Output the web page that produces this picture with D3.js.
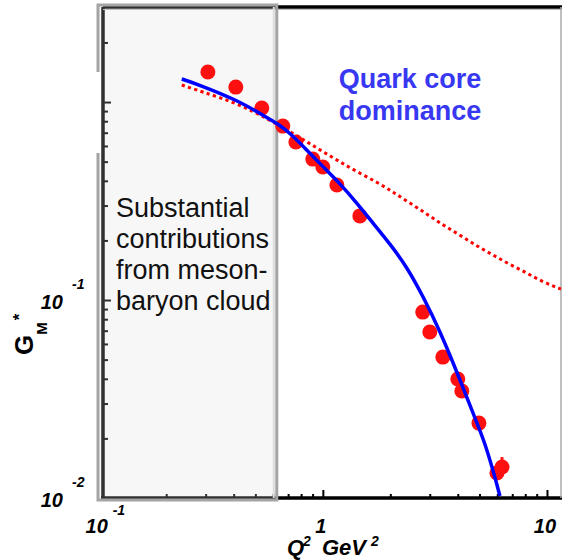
<!DOCTYPE html>
<html>
<head>
<meta charset="utf-8">
<script src="https://cdn.jsdelivr.net/npm/d3@7"></script>
<style>
  body { margin: 0; background: #fff; }
  svg { display: block; }
  text { font-family: Arial, "Liberation Sans", sans-serif; }
</style>
</head>
<body>
<svg id="chart" width="562" height="560"></svg>
<script>
// measured G_M* points (Q^2 in GeV^2)
const dataQ2 = [0.307, 0.409, 0.534, 0.663, 0.758, 0.902, 1.0, 1.155, 1.463, 2.79, 3.0, 3.43, 4.0, 4.17, 4.97, 5.98, 6.30];
const dataGM = [1.418, 1.19, 0.933, 0.756, 0.628, 0.515, 0.470, 0.381, 0.266, 0.0869, 0.0689, 0.0515, 0.0399, 0.0347, 0.0239, 0.01337, 0.01434];
const dataErrHi = [null, null, null, null, null, null, null, null, null, null, null, null, null, null, null, null, 0.0161];

// quark core curve (solid blue)
const quarkQ2 = [0.2347, 0.2824, 0.4131, 0.5396, 0.6427, 0.7122, 0.8484, 1.0, 1.191, 1.418, 1.672, 1.991, 2.371, 2.796, 3.329, 3.965, 4.673, 5.234, 5.741, 6.169];
const quarkGM = [1.307, 1.219, 1.0235, 0.8597, 0.7651, 0.6973, 0.5723, 0.4722, 0.3877, 0.3090, 0.2448, 0.1925, 0.1468, 0.1047, 0.06972, 0.04329, 0.02687, 0.01963, 0.01385, 0.01023];

// full model curve (dotted red)
const fullQ2 = [0.2347, 0.2912, 0.4131, 0.580, 0.7122, 0.8484, 1.0, 1.191, 1.418, 1.742, 2.053, 2.446, 2.912, 3.434, 4.089, 4.870, 5.741, 6.836, 8.140, 9.597, 11.55];
const fullGM = [1.219, 1.123, 0.9884, 0.8111, 0.7097, 0.6302, 0.5610, 0.4994, 0.4446, 0.3944, 0.3511, 0.3090, 0.2718, 0.2392, 0.2130, 0.1874, 0.1688, 0.1511, 0.1369, 0.1233, 0.1136];

const xMajor = [0.1, 1, 10];
const xMinor = [0.2, 0.3, 0.4, 0.5, 0.6, 0.7, 0.8, 0.9, 2, 3, 4, 5, 6, 7, 8, 9];
const xLabels = [[0.1, "10", "-1"], [1, "1", ""], [10, "10", ""]];
const yMajor = [0.1, 1];
const yMinor = [0.02, 0.03, 0.04, 0.05, 0.06, 0.07, 0.08, 0.09, 0.2, 0.3, 0.4, 0.5, 0.6, 0.7, 0.8, 0.9, 2];
const yLabels = [[0.01, "10", "-2"], [0.1, "10", "-1"]];

const cloudEdge = 0.623;
const cloudText = ["Substantial", "contributions", "from meson-", "baryon cloud"];
const coreText = ["Quark core", "dominance"];

const svg = d3.select("#chart");
const x = d3.scaleLog().domain([0.1045, 11.55]).range([103, 561]);
const y = d3.scaleLog().domain([0.01, 3.02]).range([498, 7]);
const [x0, x1] = x.range();
const [yb, yt] = y.range();

// === axes ===
const styleAxis = g => {
  g.selectAll(".tick line").attr("stroke", "#000").attr("stroke-width", 2);
  g.selectAll(".tick text").remove();
};

const gx = svg.append("g").attr("transform", `translate(0,${yb})`)
  .call(d3.axisBottom(x).tickValues(xMinor).tickSize(-4).tickSizeOuter(0).tickFormat(""))
  .call(styleAxis);
gx.select(".domain").attr("stroke", "#000").attr("stroke-width", 3.5).attr("d", `M${x0 - 2},0H${x1 + 1}`);
svg.append("g").attr("transform", `translate(0,${yb})`)
  .call(d3.axisBottom(x).tickValues(xMajor.filter(v => x(v) >= x0)).tickSize(-8).tickSizeOuter(0).tickFormat(""))
  .call(styleAxis)
  .select(".domain").remove();

const gy = svg.append("g").attr("transform", `translate(${x0},0)`)
  .call(d3.axisLeft(y).tickValues(yMinor).tickSize(-5).tickSizeOuter(0).tickFormat(""))
  .call(styleAxis);
gy.select(".domain").attr("stroke", "#000").attr("stroke-width", 3.5).attr("d", `M0,${yt}V${yb}`);
svg.append("g").attr("transform", `translate(${x0},0)`)
  .call(d3.axisLeft(y).tickValues(yMajor).tickSize(-8).tickSizeOuter(0).tickFormat(""))
  .call(styleAxis)
  .select(".domain").remove();

// top and right frame
svg.append("line").attr("x1", x0).attr("x2", x1 + 1).attr("y1", yt).attr("y2", yt)
  .attr("stroke", "#000").attr("stroke-width", 3.5);
svg.append("line").attr("x1", x0).attr("x2", x1 + 1).attr("y1", yt + 2.5).attr("y2", yt + 2.5)
  .attr("stroke", "#bbb").attr("stroke-width", 1);
svg.append("line").attr("x1", x1).attr("x2", x1).attr("y1", yt).attr("y2", yb)
  .attr("stroke", "#aaa").attr("stroke-width", 1.5);

// === shaded meson cloud region ===
const bx0 = x0 - 5, bx1 = x(cloudEdge), by0 = yt - 2, by1 = yb + 2;
svg.append("rect")
  .attr("x", bx0).attr("y", by0).attr("width", bx1 - bx0).attr("height", by1 - by0)
  .attr("fill", "#dcdcdc").attr("fill-opacity", 0.22)
  .attr("stroke", "#a4a4a4").attr("stroke-width", 3);
svg.append("line").attr("x1", bx1 - 3).attr("x2", bx1 - 3).attr("y1", by0 + 2).attr("y2", by1 - 2)
  .attr("stroke", "#ddd").attr("stroke-width", 2);
svg.append("rect").attr("x", bx0 - 4).attr("y", 72).attr("width", 7).attr("height", 81).attr("fill", "#fff");

svg.append("text").attr("font-size", 27).attr("fill", "#111")
  .selectAll("tspan").data(cloudText).join("tspan")
  .attr("x", 116).attr("y", (d, i) => 217 + i * 31).text(d => d);

svg.append("text").attr("font-size", 27).attr("font-weight", "bold").attr("fill", "#3838f2")
  .attr("text-anchor", "middle")
  .selectAll("tspan").data(coreText).join("tspan")
  .attr("x", 410).attr("y", (d, i) => 88 + i * 32).text(d => d);

// === data ===
const pts = dataQ2.map((q, i) => ({ q, g: dataGM[i], hi: dataErrHi[i] }));
svg.append("g").selectAll("line").data(pts.filter(d => d.hi)).join("line")
  .attr("x1", d => x(d.q)).attr("x2", d => x(d.q))
  .attr("y1", d => y(d.g)).attr("y2", d => y(d.hi))
  .attr("stroke", "#ff1010").attr("stroke-width", 3);
svg.append("g").selectAll("circle").data(pts).join("circle")
  .attr("cx", d => x(d.q)).attr("cy", d => y(d.g)).attr("r", 7.5)
  .attr("fill", "#ff1010");

// smooth curves through the read-off points
const line = d3.line().x(d => x(d[0])).y(d => y(d[1])).curve(d3.curveBasis);
svg.append("path").datum(fullQ2.map((q, i) => [q, fullGM[i]]))
  .attr("d", line).attr("fill", "none").attr("stroke", "#ff0000")
  .attr("stroke-width", 3).attr("stroke-dasharray", "3.2,3.4");
svg.append("path").datum(quarkQ2.map((q, i) => [q, quarkGM[i]]))
  .attr("d", line).attr("fill", "none").attr("stroke", "#0000ff").attr("stroke-width", 3.5);

// === tick labels ===
const lab = svg.append("g").attr("font-weight", "bold").attr("font-style", "italic").attr("fill", "#000");
xLabels.forEach(([v, base, sup]) => {
  const cx = x(v) - 2;
  lab.append("text").attr("x", cx).attr("y", 533).attr("text-anchor", "middle").attr("font-size", 20).text(base);
  if (sup) lab.append("text").attr("x", cx + 16).attr("y", 515).attr("font-size", 14).text(sup);
});
yLabels.forEach(([v, base, sup]) => {
  lab.append("text").attr("x", 63).attr("y", y(v) + 8.5).attr("text-anchor", "end").attr("font-size", 20).text(base);
  lab.append("text").attr("x", 72).attr("y", y(v) - 11.5).attr("font-size", 14).text(sup);
});

// axis titles
const xt = lab.append("text").attr("y", 555).attr("font-size", 22);
xt.append("tspan").attr("x", 287).text("Q");
xt.append("tspan").attr("x", 303).attr("dy", -9).attr("font-size", 14).text("2");
xt.append("tspan").attr("x", 322).attr("dy", 9).text("GeV");
xt.append("tspan").attr("x", 371).attr("dy", -9).attr("font-size", 14).text("2");

const yTitle = svg.append("text").attr("transform", "translate(33,355) rotate(-90)")
  .attr("font-weight", "bold").attr("font-size", 26);
yTitle.append("tspan").text("G");
yTitle.append("tspan").attr("dy", 14).attr("font-size", 15).text("M");
yTitle.append("tspan").attr("dy", -22).attr("dx", 2).attr("font-size", 17).text("*");
</script>
</body>
</html>
